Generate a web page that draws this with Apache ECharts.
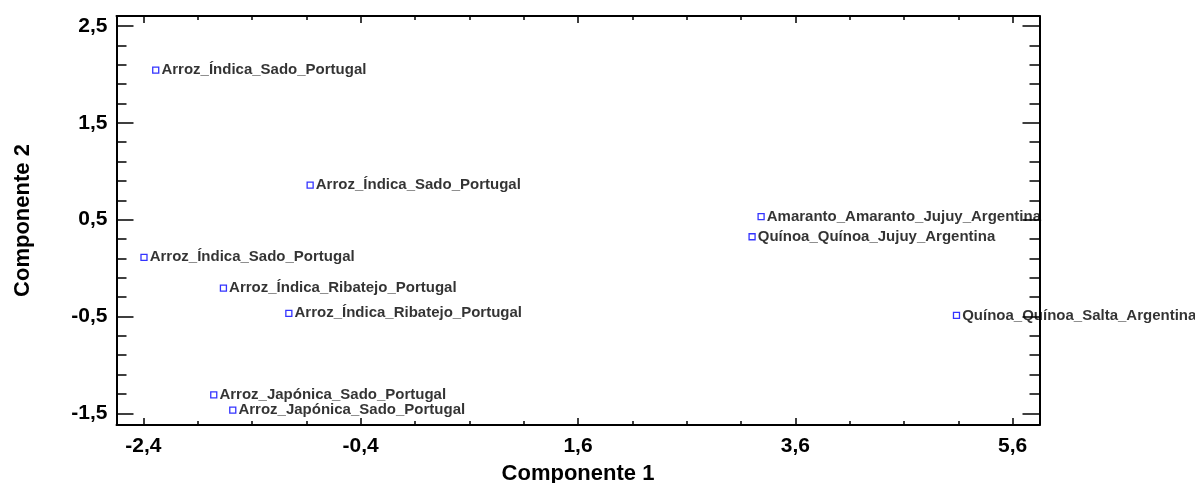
<!DOCTYPE html>
<html>
<head>
<meta charset="utf-8">
<script src="https://cdn.jsdelivr.net/npm/echarts@6/dist/echarts.min.js"></script>
<style>
  html, body { margin: 0; padding: 0; background: #fff; }
  #chart { width: 1195px; height: 483px; }
</style>
</head>
<body>
<div id="chart"></div>
<script>
// ---- data ----
const names = [
  'Arroz_Índica_Sado_Portugal',
  'Arroz_Índica_Sado_Portugal',
  'Arroz_Índica_Sado_Portugal',
  'Arroz_Índica_Ribatejo_Portugal',
  'Arroz_Índica_Ribatejo_Portugal',
  'Arroz_Japónica_Sado_Portugal',
  'Arroz_Japónica_Sado_Portugal',
  'Amaranto_Amaranto_Jujuy_Argentina',
  'Quínoa_Quínoa_Jujuy_Argentina',
  'Quínoa_Quínoa_Salta_Argentina'
];
const comp1 = [-2.286, -0.865, -2.394, -1.663, -1.061, -1.752, -1.577, 3.285, 3.202, 5.083];
const comp2 = [2.045, 0.857, 0.111, -0.207, -0.468, -1.309, -1.467, 0.530, 0.323, -0.489];

const xMajorTicks = [-2.4, -0.4, 1.6, 3.6, 5.6];
const xMinorTicks = [-1.9, -1.4, -0.9, 0.1, 0.6, 1.1, 2.1, 2.6, 3.1, 4.1, 4.6, 5.1];
const yMajorTicks = [-1.5, -0.5, 0.5, 1.5, 2.5];
const yMinorTicks = [-1.3, -1.1, -0.9, -0.7, -0.3, -0.1, 0.1, 0.3, 0.7, 0.9, 1.1, 1.3, 1.7, 1.9, 2.1, 2.3];

const xRange = [-2.647, 5.847];
const yRange = [-1.621, 2.603];

// ---- chart ----
const FONT = "'Liberation Sans', Arial, sans-serif";
const fmt = v => Number(v).toFixed(1).replace('.', ',');

function makeAxis(pos, range, ticks, len, opts) {
  return Object.assign({
    type: 'value',
    position: pos,
    min: range[0],
    max: range[1],
    splitLine: { show: false },
    axisLine: { show: false, onZero: false },
    axisTick: { show: true, inside: true, length: len, customValues: ticks,
                lineStyle: { color: '#000', width: 1.5 } },
    axisLabel: { show: false },
    splitNumber: 4
  }, opts || {});
}

const labelStyle = { color: '#000', fontFamily: FONT, fontWeight: 'bold', fontSize: 21 };
const nameStyle = { color: '#000', fontFamily: FONT, fontWeight: 'bold', fontSize: 22 };

const chart = echarts.init(document.getElementById('chart'), null, { renderer: 'canvas' });
chart.setOption({
  animation: false,
  backgroundColor: '#fff',
  grid: { left: 116.5, top: 16, right: 155.5, bottom: 58, containLabel: false, outerBoundsMode: 'none' },
  xAxis: [
    makeAxis('bottom', xRange, xMajorTicks, 7, {
      axisLine: { show: true, onZero: false, lineStyle: { color: '#000', width: 2 } },
      axisLabel: { show: true, customValues: xMajorTicks, formatter: fmt, margin: 11, ...labelStyle },
      name: 'Componente 1', nameLocation: 'middle', nameGap: 38, nameTextStyle: nameStyle
    }),
    makeAxis('bottom', xRange, xMinorTicks, 4),
    makeAxis('top', xRange, xMajorTicks, 7, {
      axisLine: { show: true, onZero: false, lineStyle: { color: '#000', width: 2 } }
    }),
    makeAxis('top', xRange, xMinorTicks, 4)
  ],
  yAxis: [
    makeAxis('left', yRange, yMajorTicks, 17, {
      axisLine: { show: true, onZero: false, lineStyle: { color: '#000', width: 2 } },
      axisLabel: { show: true, customValues: yMajorTicks, formatter: fmt, margin: 9, ...labelStyle },
      name: 'Componente 2', nameLocation: 'middle', nameGap: 83, nameTextStyle: nameStyle
    }),
    makeAxis('left', yRange, yMinorTicks, 10),
    makeAxis('right', yRange, yMajorTicks, 17, {
      axisLine: { show: true, onZero: false, lineStyle: { color: '#000', width: 2 } }
    }),
    makeAxis('right', yRange, yMinorTicks, 10)
  ],
  series: [{
    type: 'scatter',
    xAxisIndex: 0,
    yAxisIndex: 0,
    symbol: 'rect',
    symbolSize: 6,
    clip: false,
    itemStyle: { color: '#fff', borderColor: '#0000ff', borderWidth: 1.3 },
    label: {
      show: true, position: 'right', distance: 2,
      formatter: p => names[p.dataIndex],
      color: '#000', fontFamily: FONT, fontWeight: 'bold', fontSize: 15
    },
    labelLayout: { hideOverlap: false },
    data: comp1.map((x, i) => [x, comp2[i]])
  }]
});
</script>
</body>
</html>
